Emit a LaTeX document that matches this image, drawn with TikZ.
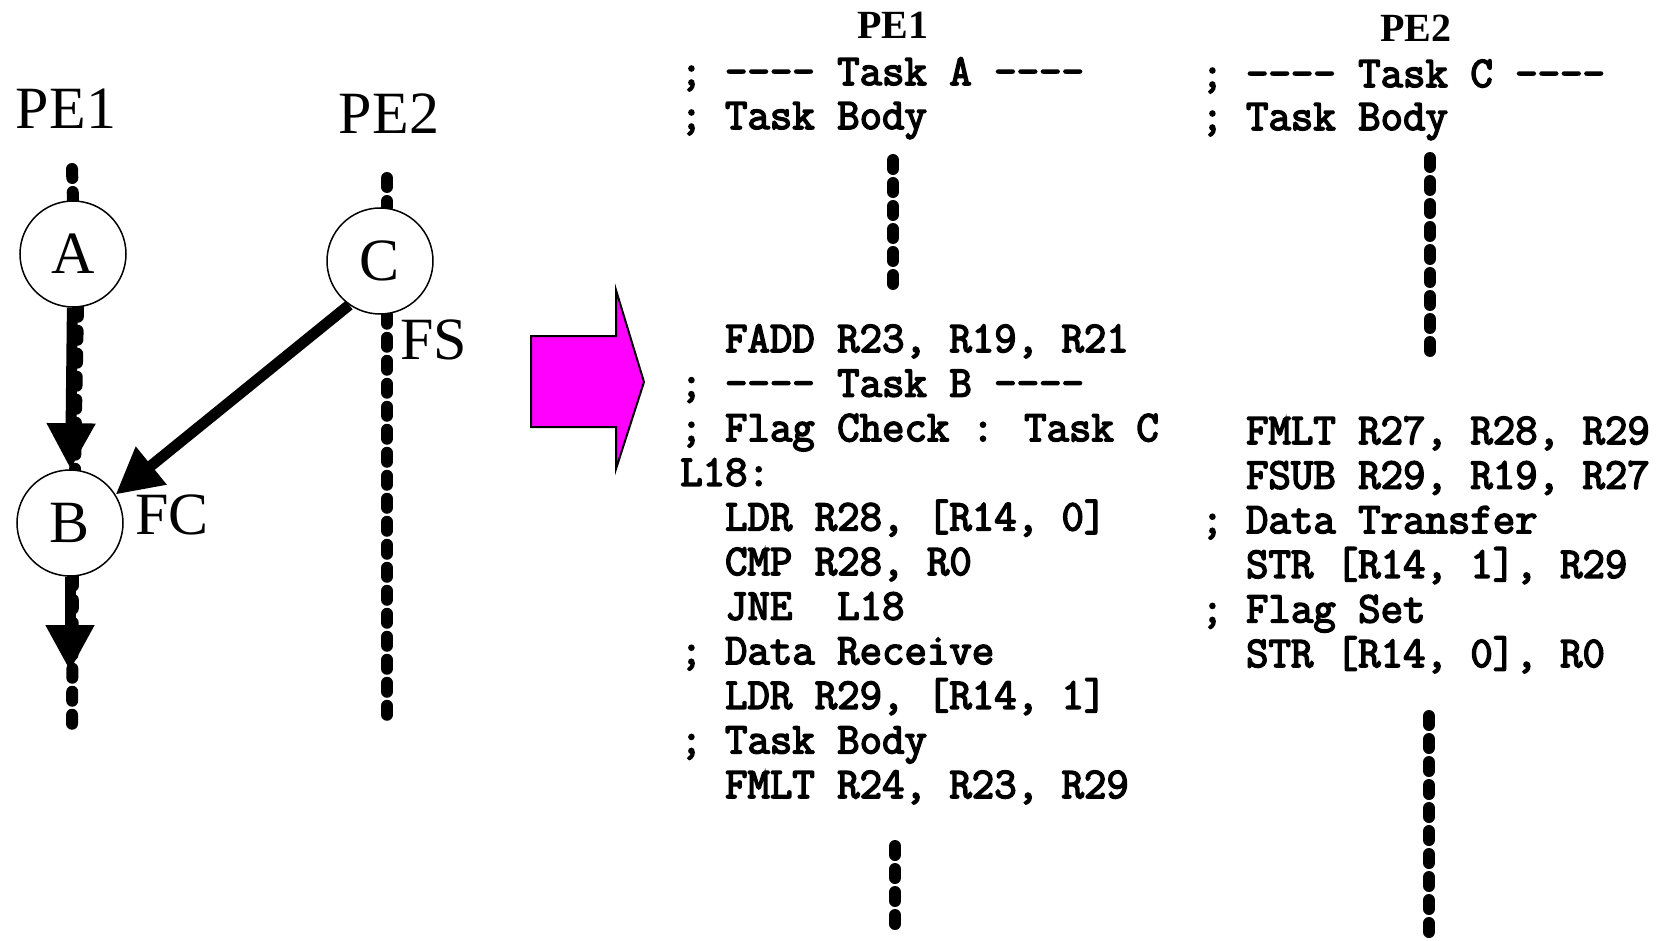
\documentclass[tikz,border=0pt]{standalone}
\usepackage{fontspec}
\setmainfont{Liberation Serif}
\newfontfamily\codefont{Latin Modern Mono}[FakeStretch=0.99, FakeBold=3.5]
\usetikzlibrary{arrows.meta,backgrounds}
\definecolor{arrowpink}{RGB}{255,0,255}
\newcommand\bigfont{\fontsize{60}{60}\selectfont}
\newcommand\ind{\phantom{xx}}
\newcommand\dashes{-\kern0pt-\kern0pt-\kern0pt-}
\begin{document}
\begin{tikzpicture}[x=1pt, y=-1pt,
    lifeline/.style={line width=12pt, line cap=round, dash pattern=on 9pt off 14pt},
    task/.style={circle, draw, line width=1.5pt, fill=white, minimum size=106pt, inner sep=0pt, font=\bigfont},
    flow/.style={line width=11pt, -{Triangle[length=46pt,width=46pt]}},
    code/.style={anchor=base west, inner sep=0pt, font=\fontsize{44}{44}\codefont},
    head/.style={anchor=base, inner sep=0pt, font=\fontsize{40}{40}\selectfont\bfseries}]
    \useasboundingbox (0,0) rectangle (1657,941);
    % Task graph
    \node[anchor=base, inner sep=0pt, font=\bigfont] (pe1) at (66,129) {PE1};
    \node[anchor=base, inner sep=0pt, font=\bigfont] (pe2) at (389,134) {PE2};
    \node[task] (A) at (73,254) {A};
    \node[task] (B) at (70,523) {B};
    \node[task] (C) at (380,261) {C};
    \coordinate (Bend) at (70,671);
    \begin{pgfonlayer}{background}
        \draw[lifeline] (72,169) -- (A.north);
        \draw[lifeline] ([xshift=5pt]A.south) -- ([xshift=5pt]B.north);
        \draw[lifeline] ([xshift=3pt]B.south) -- (72,727);
        \draw[lifeline] (387,178) -- ([xshift=7pt]C.north);
        \draw[lifeline] ([xshift=7pt]C.south) -- (387,719);
    \end{pgfonlayer}
    \draw[flow] (A) -- (B);
    \draw[flow] (B) -- (Bend);
    \draw[flow] (C.235) -- (B.32);
    \node[anchor=base west, inner sep=0pt, font=\bigfont] (fs) at (400,359) {FS};
    \node[anchor=base west, inner sep=0pt, font=\bigfont] (fc) at (135,534) {FC};
    % Big arrow
    \draw[line width=2pt, fill=arrowpink] (531,336) -- (616,336) -- (616,290) -- (644,382)
        -- (616,469) -- (616,427) -- (531,427) -- cycle;
    % PE1 code
    \node[head] (h1) at (893,39) {PE1};
    \node[code] (ta1) at (680,85) {; \dashes{} Task A \dashes};
    \node[code] (ta2) at (680,129) {; Task Body};
    \draw[lifeline] (893,160) -- (893,291);
    \foreach \txt [count=\i] in {{\ind FADD R23, R19, R21}, {; \dashes{} Task B \dashes},
        {; Flag Check : Task C}, {L18:}, {\ind LDR R28, [R14, 0]}, {\ind CMP R28, R0},
        {\ind JNE~~L18}, {; Data Receive}, {\ind LDR R29, [R14, 1]}, {; Task Body},
        {\ind FMLT R24, R23, R29}}
        \node[code] (pb\i) at (680,{352+44.6*(\i-1)}) {\txt};
    \draw[lifeline] (895,846) -- (895,929);
    % PE2 code
    \node[head] (h2) at (1416,42) {PE2};
    \node[code] (tc1) at (1201,87) {; \dashes{} Task C \dashes};
    \node[code] (tc2) at (1201,130) {; Task Body};
    \draw[lifeline] (1430,158) -- (1430,361);
    \foreach \txt [count=\i] in {{\ind FMLT R27, R28, R29}, {\ind FSUB R29, R19, R27},
        {; Data Transfer}, {\ind STR [R14, 1], R29}, {; Flag Set}, {\ind STR [R14, 0], R0}}
        \node[code] (pc\i) at (1201,{444+44.6*(\i-1)}) {\txt};
    \draw[lifeline] (1429,716) -- (1429,935);
\end{tikzpicture}
\end{document}
